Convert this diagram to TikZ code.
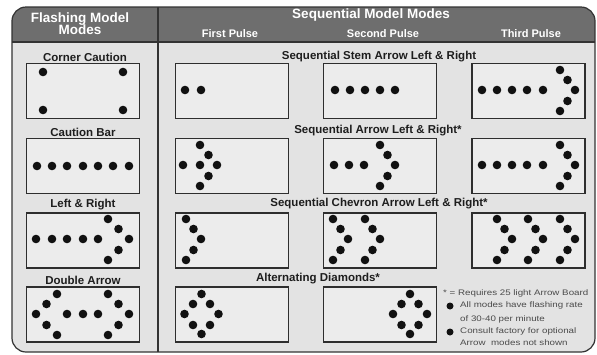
\documentclass[tikz,border=0pt]{standalone}
\usepackage{fontspec}
\setmainfont{Liberation Sans}
\definecolor{panelc}{HTML}{E3E3E3}
\definecolor{boxf}{HTML}{ECECEC}
\definecolor{hdrc}{HTML}{6E6E6E}
\definecolor{edgec}{HTML}{333333}
\definecolor{boxc}{HTML}{2E2E2E}
\definecolor{labc}{HTML}{1E1E1E}
\definecolor{fnc}{HTML}{4A4A4A}
\definecolor{lampc}{HTML}{111111}
\newcommand\lamp[2]{\fill[lampc] (#1,#2) circle (4.3pt);}
\newcommand\chevx[1]{\begin{scope}[shift={(#1,0)}]\lamp{0}{219}\lamp{7.5}{229}\lamp{15}{239}\lamp{7.5}{250}\lamp{0}{260}\end{scope}}
\newcommand\headx[3]{\begin{scope}[shift={(#1,#2)}]\lamp{0}{-20}\lamp{0.5*#3}{-10}\lamp{#3}{0}\lamp{0.5*#3}{11}\lamp{0}{21}\end{scope}}
\newcommand\diamx[1]{\begin{scope}[shift={(#1,314)}]\lamp{0}{-20}\lamp{-8.5}{-10}\lamp{8.5}{-10}\lamp{-17}{0}\lamp{17}{0}\lamp{-8.5}{11}\lamp{8.5}{11}\lamp{0}{20}\end{scope}}
\begin{document}
\begin{tikzpicture}[x=1pt,y=-1pt,
  modebox/.style={draw=boxc, line width=1.4pt, fill=boxf, minimum width=113pt, minimum height=55pt, inner sep=0pt},
  lbl/.style={font=\fontsize{11.5}{13}\selectfont\bfseries, text=labc, inner sep=0pt},
  hdr/.style={font=\fontsize{13.5}{14}\selectfont\bfseries, text=white, inner sep=0pt, align=center},
  pulse/.style={font=\fontsize{11}{12}\selectfont\bfseries, text=white, inner sep=0pt},
  fn/.style={font=\fontsize{8}{9}\selectfont, text=fnc, inner sep=0pt, anchor=west}]
\clip (0,0) rectangle (597,354);
\fill[white] (0,0) rectangle (597,354);
\begin{scope}
  \path[clip, rounded corners=14pt] (12,7) rectangle (595,352);
  \fill[panelc] (12,7) rectangle (595,352);
  \fill[hdrc] (12,7) rectangle (595,42);
\end{scope}
\draw[edgec, line width=1.2pt, rounded corners=14pt] (12,7) rectangle (595,352);
\draw[edgec, line width=1.4pt] (12,42) -- (595,42);
\draw[edgec, line width=1.4pt] (158,7) -- (158,352);
% headers
\node[hdr] (hflash) at (80,24) {Flashing Model\\[-2pt]Modes};
\node[hdr] (hseq) at (371,15.5) {Sequential Model Modes};
\node[pulse] (p1) at (230,33.5) {First Pulse};
\node[pulse] (p2) at (383,33.5) {Second Pulse};
\node[pulse] (p3) at (531,33.5) {Third Pulse};
% left labels and boxes
\node[lbl] (lcc) at (85,57) {Corner Caution};
\node[lbl] (lcb) at (83,132) {Caution Bar};
\node[lbl] (llr) at (83,205) {Left \& Right};
\node[lbl] (lda) at (83,280) {Double Arrow};
\node[modebox] (cc) at (83,91) {};
\node[modebox] (cb) at (83,166) {};
\node[modebox] (lr) at (83,240.5) {};
\node[modebox] (da) at (83,314.5) {};
% right labels
\node[lbl] (r1) at (379,57) {Sequential Stem Arrow Left \& Right};
\node[lbl] (r2) at (378,131) {Sequential Arrow Left \& Right*};
\node[lbl] (r3) at (379,204) {Sequential Chevron Arrow Left \& Right*};
\node[lbl] (r4) at (318,279) {Alternating Diamonds*};
% right boxes
\foreach \r/\y in {1/91,2/166,3/240.5}{
  \node[modebox] (b\r a) at (232,\y) {};
  \node[modebox] (b\r b) at (380,\y) {};
  \node[modebox] (b\r c) at (528.5,\y) {};
}
\node[modebox] (b4a) at (232,314.5) {};
\node[modebox] (b4b) at (380,314.5) {};
% Corner caution
\lamp{43}{72}\lamp{123}{72}\lamp{43}{110}\lamp{123}{110}
% Caution bar
\foreach \x in {37,52,67,83,98,113,129}{\lamp{\x}{166}}
% Left & Right
\foreach \x in {36,52,67,83,98}{\lamp{\x}{239}}
\headx{108}{239}{21}
% Double arrow
\foreach \x in {67,83,98}{\lamp{\x}{314}}
\headx{108}{314}{21}
\headx{57}{314}{-21}
% Row 1: stem arrow
\lamp{185}{90}\lamp{201}{90}
\foreach \x in {335,350,365,380,395}{\lamp{\x}{90}}
\foreach \x in {482,497,512,527,543}{\lamp{\x}{90}}
\headx{560}{90}{15}
% Row 2: arrow
\lamp{183}{165}\lamp{200}{165}
\headx{200}{165}{17}
\foreach \x in {334,349,364}{\lamp{\x}{165}}
\headx{380}{165}{15}
\foreach \x in {482,497,512,527,543}{\lamp{\x}{165}}
\headx{560}{165}{15}
% Row 3: chevrons
\chevx{186}
\chevx{333}\chevx{365}
\chevx{497}\chevx{528}\chevx{560}
% Row 4: diamonds
\diamx{201.5}
\diamx{410}
% footnote
\node[fn] (f1) at (443,293.5) {\scalebox{1.22}[1]{* = Requires 25 light Arrow Board}};
\fill[lampc] (450,306) circle (3.5pt);
\node[fn] (f2) at (460,305.5) {\scalebox{1.22}[1]{All modes have flashing rate}};
\node[fn] (f3) at (460,319) {\scalebox{1.22}[1]{of 30-40 per minute}};
\fill[lampc] (450,332) circle (3.5pt);
\node[fn] (f4) at (460,331.5) {\scalebox{1.22}[1]{Consult factory for optional}};
\node[fn] (f5) at (460,342.5) {\scalebox{1.22}[1]{Arrow\ \ modes not shown}};
\end{tikzpicture}
\end{document}
